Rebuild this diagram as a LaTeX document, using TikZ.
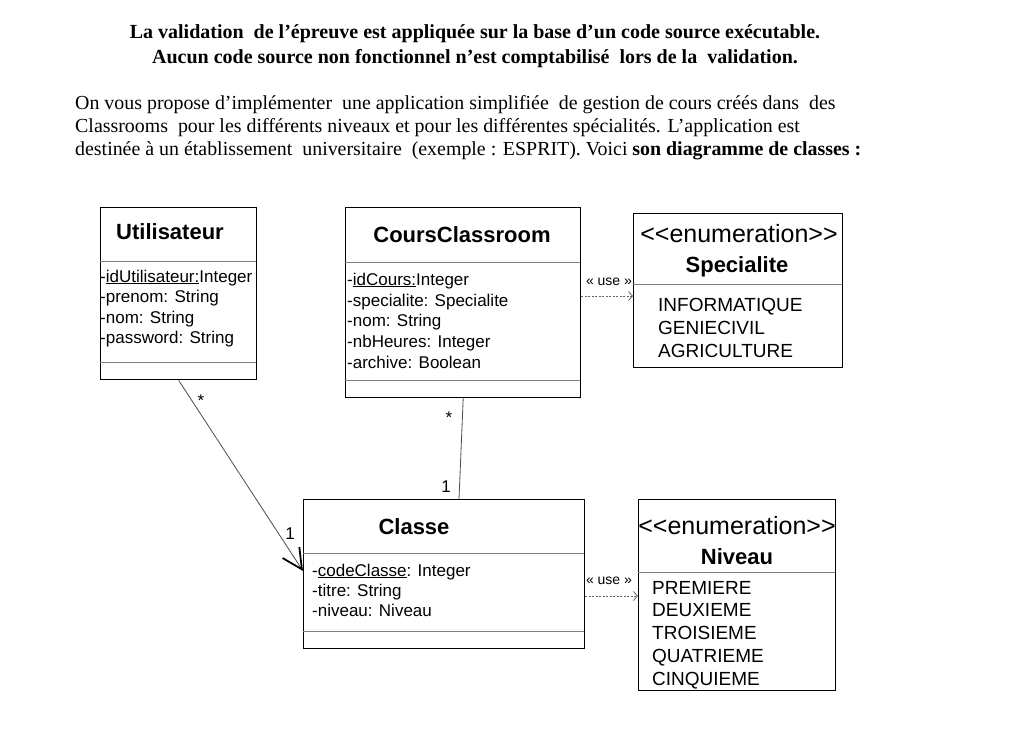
\documentclass[tikz,border=0pt]{standalone}
\usepackage{fontspec}
\setmainfont{Liberation Serif}
\newfontfamily\arial{Liberation Sans}
\usetikzlibrary{arrows.meta,calc}
\begin{document}
\begin{tikzpicture}[x=1pt,y=-1pt,
  box/.style={draw=black, line width=1.4pt, anchor=north west, inner sep=0pt},
  sep/.style={draw=black!50, line width=0.9pt},
  attr/.style={anchor=base west, inner sep=0pt, font=\arial\fontsize{17}{20}\selectfont},
  enumval/.style={anchor=base west, inner sep=0pt, font=\arial\fontsize{19}{22}\selectfont},
  ttl/.style={anchor=base, inner sep=0pt, font=\arial\bfseries\fontsize{22}{26}\selectfont},
  stereo/.style={anchor=base, inner sep=0pt, font=\arial\fontsize{25}{28}\selectfont},
  mult/.style={anchor=base, inner sep=0pt, font=\arial\fontsize{17}{19}\selectfont},
  uselbl/.style={anchor=base, inner sep=0pt, font=\arial\fontsize{14}{16}\selectfont},
  dep/.style={draw=black!60, line width=0.8pt, dash pattern=on 2pt off 1.5pt, -{Straight Barb[length=4pt,width=9pt]}},
  assoc/.style={draw=black!70, line width=0.8pt},
  head/.style={draw=black!70, line width=0.8pt, -{Straight Barb[length=20pt,width=20pt,line width=1.8pt,color=black]}},
  hdr/.style={anchor=base, inner sep=0pt, font=\bfseries\fontsize{20}{22}\selectfont},
  para/.style={anchor=base west, inner sep=0pt, font=\fontsize{19.9}{22}\selectfont}
]
\useasboundingbox[fill=white] (0,0) rectangle (1018,737);

% header text
\node[hdr] (h1) at (475,38) {La validation\ \ de l’épreuve est appliquée sur la base d’un code source exécutable.};
\node[hdr] (h2) at (475,63) {Aucun code source non fonctionnel n’est comptabilisé\ \ lors de la\ \ validation.};
\node[para] (p1) at (75,109) {On vous propose d’implémenter\ \ une application simplifiée\ \ de gestion de cours créés dans\ \ des};
\node[para] (p2) at (75,132) {Classrooms\ \ pour les différents niveaux et pour les différentes spécialités. L’application est};
\node[para] (p3) at (75,155) {destinée à un établissement\ \ universitaire\ \ (exemple : ESPRIT). Voici \textbf{son diagramme de classes :}};

% Utilisateur
\node[box, minimum width=156pt, minimum height=172pt] (U) at (100,207) {};
\node[ttl] (Ut) at (170,239) {Utilisateur};
\draw[sep] (100,261) -- (256,261);
\draw[sep] (100,362) -- (256,362);
\node[attr] (U1) at (100,282) {-\underline{idUtilisateur:}Integer};
\node[attr] (U2) at (100,302) {-prenom: String};
\node[attr] (U3) at (100,323) {-nom: String};
\node[attr] (U4) at (100,343) {-password: String};

% CoursClassroom
\node[box, minimum width=235pt, minimum height=190pt] (K) at (345,207) {};
\node[ttl] (Kt) at (462,242) {CoursClassroom};
\draw[sep] (345,262) -- (580,262);
\draw[sep] (345,380) -- (580,380);
\node[attr] (K1) at (347,285) {-\underline{idCours:}Integer};
\node[attr] (K2) at (347,306) {-specialite: Specialite};
\node[attr] (K3) at (347,326) {-nom: String};
\node[attr] (K4) at (347,347) {-nbHeures: Integer};
\node[attr] (K5) at (347,368) {-archive: Boolean};

% Specialite
\node[box, minimum width=209pt, minimum height=154pt] (S) at (633,213) {};
\node[stereo] (St) at (739,242) {<{}<enumeration>{}>};
\node[ttl] (Sn) at (737,272) {Specialite};
\draw[sep] (633,284) -- (842,284);
\node[enumval] (S1) at (658,311) {INFORMATIQUE};
\node[enumval] (S2) at (658,334) {GENIECIVIL};
\node[enumval] (S3) at (658,357) {AGRICULTURE};

% Classe
\node[box, minimum width=281pt, minimum height=149pt] (C) at (303,499) {};
\node[ttl] (Ct) at (414,534) {Classe};
\draw[sep] (303,553) -- (584,553);
\draw[sep] (303,631) -- (584,631);
\node[attr] (C1) at (312,576) {-\underline{codeClasse}: Integer};
\node[attr] (C2) at (312,596) {-titre: String};
\node[attr] (C3) at (312,616) {-niveau: Niveau};

% Niveau
\node[box, minimum width=197pt, minimum height=191pt] (N) at (638,499) {};
\node[stereo] (Nt) at (737,534) {<{}<enumeration>{}>};
\node[ttl] (Nn) at (737,564) {Niveau};
\draw[sep] (638,572) -- (835,572);
\node[enumval] (N1) at (652,594) {PREMIERE};
\node[enumval] (N2) at (652,616) {DEUXIEME};
\node[enumval] (N3) at (652,639) {TROISIEME};
\node[enumval] (N4) at (652,662) {QUATRIEME};
\node[enumval] (N5) at (652,685) {CINQUIEME};

% dependencies
\path ($(K.north east)+(0,89)$) coordinate (k1);
\draw[dep] (k1) -- (k1 -| S.west);
\node[uselbl] (u1) at (609,285) {« use »};
\path ($(C.north east)+(0,97)$) coordinate (c1);
\draw[dep] (c1) -- (c1 -| N.west);
\node[uselbl] (u2) at (609,584) {« use »};

% associations
\draw[head] (U.south) -- ($(C.north west)+(0,72)$);
\node[mult] (m1) at (201,406) {*};
\node[mult] (m2) at (290,539) {1};
\draw[assoc] (K.south) -- ($(C.north west)+(156,0)$);
\node[mult] (m3) at (449,423) {*};
\node[mult] (m4) at (446,492) {1};
\end{tikzpicture}
\end{document}
